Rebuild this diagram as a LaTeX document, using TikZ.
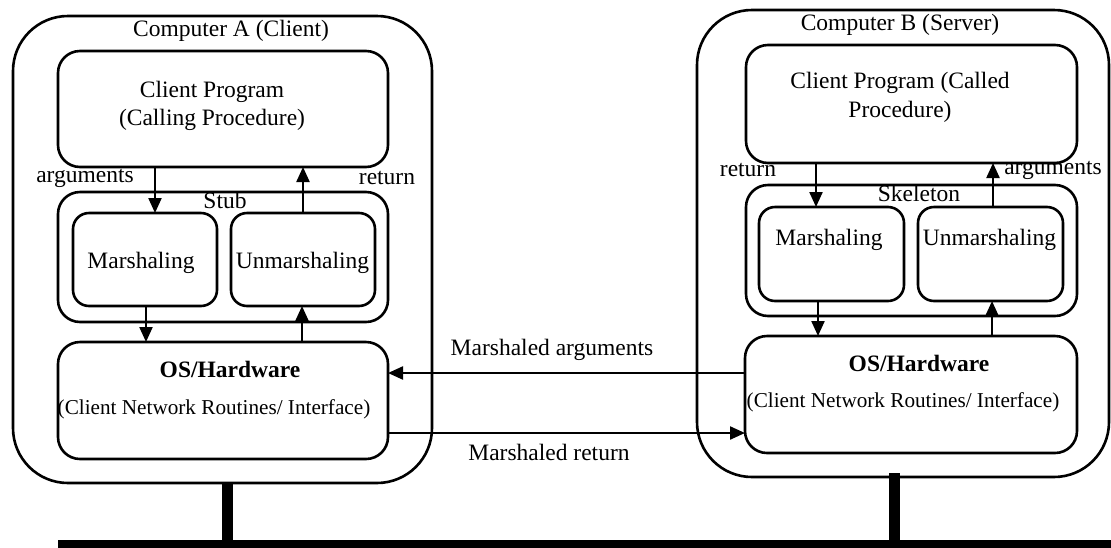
\documentclass[tikz,border=0pt]{standalone}
\usepackage{fontspec}
\setmainfont{Liberation Serif}
\usetikzlibrary{arrows.meta}
\begin{document}
\begin{tikzpicture}[x=1pt,y=-1pt,
  box/.style={draw, line width=2.6pt, inner sep=0pt, outer sep=0pt},
  outerbox/.style={box, rounded corners=55pt},
  midbox/.style={box, rounded corners=22pt},
  smallbox/.style={box, rounded corners=16pt},
  arr/.style={line width=2.2pt, -{Triangle[length=15pt,width=13pt]}},
  lbl/.style={inner sep=0pt, font=\fontsize{23.5}{28}\selectfont},
  sml/.style={inner sep=0pt, font=\fontsize{21.2}{26}\selectfont},
  bus/.style={line width=10.5pt}
]
\useasboundingbox (0,0) rectangle (1111,547);
\fill[white] (0,0) rectangle (1111,547);

% Computer A
\node[outerbox, minimum width=419pt, minimum height=467pt] (outA) at (222.5,249.5) {};
\node[lbl] (titA) at (231,31) {Computer A (Client)};
\node[midbox, minimum width=330pt, minimum height=116pt] (cpA) at (223,109) {};
\node[lbl] (cpAt1) at (212,92) {Client Program};
\node[lbl] (cpAt2) at (212,120) {(Calling Procedure)};
\node[midbox, minimum width=330pt, minimum height=130pt] (stubA) at (223,257) {};
\node[lbl] (stubAt) at (225,200) {Stub};
\node[smallbox, minimum width=144pt, minimum height=93pt] (mA) at (145,259.5) {};
\node[lbl] (mAt) at (141,263) {Marshaling};
\node[smallbox, minimum width=144pt, minimum height=93pt] (uA) at (303,259.5) {};
\node[lbl] (uAt) at (302.5,263) {Unmarshaling};
\node[midbox, minimum width=330pt, minimum height=117pt] (osA) at (223,400.5) {};
\node[lbl, font=\fontsize{23.5}{28}\selectfont\bfseries] (osAt1) at (230,369) {OS/Hardware};
\node[sml] (osAt2) at (214,409) {(Client Network Routines/ Interface)};
\node[lbl] (argA) at (85,178) {arguments};
\node[lbl] (retA) at (387,178) {return};

% Computer B
\node[outerbox, minimum width=412pt, minimum height=467pt] (outB) at (903,243.5) {};
\node[lbl] (titB) at (900,25) {Computer B (Server)};
\node[midbox, minimum width=331pt, minimum height=118pt] (cpB) at (911.5,104) {};
\node[lbl] (cpBt1) at (900,83) {Client Program (Called};
\node[lbl] (cpBt2) at (900,112) {Procedure)};
\node[midbox, minimum width=331pt, minimum height=131pt] (skB) at (911.5,250.5) {};
\node[lbl] (skBt) at (919,193) {Skeleton};
\node[smallbox, minimum width=145pt, minimum height=94pt] (mB) at (831.5,254) {};
\node[lbl] (mBt) at (829,240) {Marshaling};
\node[smallbox, minimum width=145pt, minimum height=94pt] (uB) at (990.5,254) {};
\node[lbl] (uBt) at (989.5,240) {Unmarshaling};
\node[midbox, minimum width=332pt, minimum height=117pt] (osB) at (911,394.5) {};
\node[lbl, font=\fontsize{23.5}{28}\selectfont\bfseries] (osBt1) at (919,363) {OS/Hardware};
\node[sml] (osBt2) at (903,402) {(Client Network Routines/ Interface)};
\node[lbl] (retB) at (748,170) {return};
\node[lbl] (argB) at (1053,170) {arguments};

% x positions of vertical arrows
\coordinate (xa1) at (155,0);
\coordinate (xa2) at (303,0);
\coordinate (xa3) at (146,0);
\coordinate (xa4) at (302,0);
\coordinate (xb1) at (816,0);
\coordinate (xb2) at (993,0);
\coordinate (xb3) at (818,0);
\coordinate (xb4) at (992,0);

% arrows in A
\draw[arr] (cpA.south -| xa1) -- (mA.north -| xa1);
\draw[arr] (uA.north -| xa2) -- (cpA.south -| xa2);
\draw[arr] (mA.south -| xa3) -- (osA.north -| xa3);
\draw[arr] (osA.north -| xa4) -- (uA.south -| xa4);
% arrows in B
\draw[arr] (cpB.south -| xb1) -- (mB.north -| xb1);
\draw[arr] (uB.north -| xb2) -- (cpB.south -| xb2);
\draw[arr] (mB.south -| xb3) -- (osB.north -| xb3);
\draw[arr] (osB.north -| xb4) -- (uB.south -| xb4);

% network arrows
\coordinate (ya) at (0,373);
\coordinate (yr) at (0,433);
\draw[arr] (osB.west |- ya) -- (osA.east |- ya);
\draw[arr] (osA.east |- yr) -- (osB.west |- yr);
\node[lbl] (malbl) at (552,350) {Marshaled arguments};
\node[lbl] (mrlbl) at (549,452) {Marshaled return};

% bus
\coordinate (busA) at (227.5,0);
\coordinate (busB) at (894.5,0);
\coordinate (busY) at (0,543.5);
\coordinate (busL) at (58,543.5);
\coordinate (busR) at (1111,543.5);
\draw[bus] (outA.south -| busA) -- (busA |- busY);
\draw[bus] ([yshift=4pt]outB.south -| busB) -- (busB |- busY);
\draw[line width=8pt] (busL) -- (busR);
\end{tikzpicture}
\end{document}
